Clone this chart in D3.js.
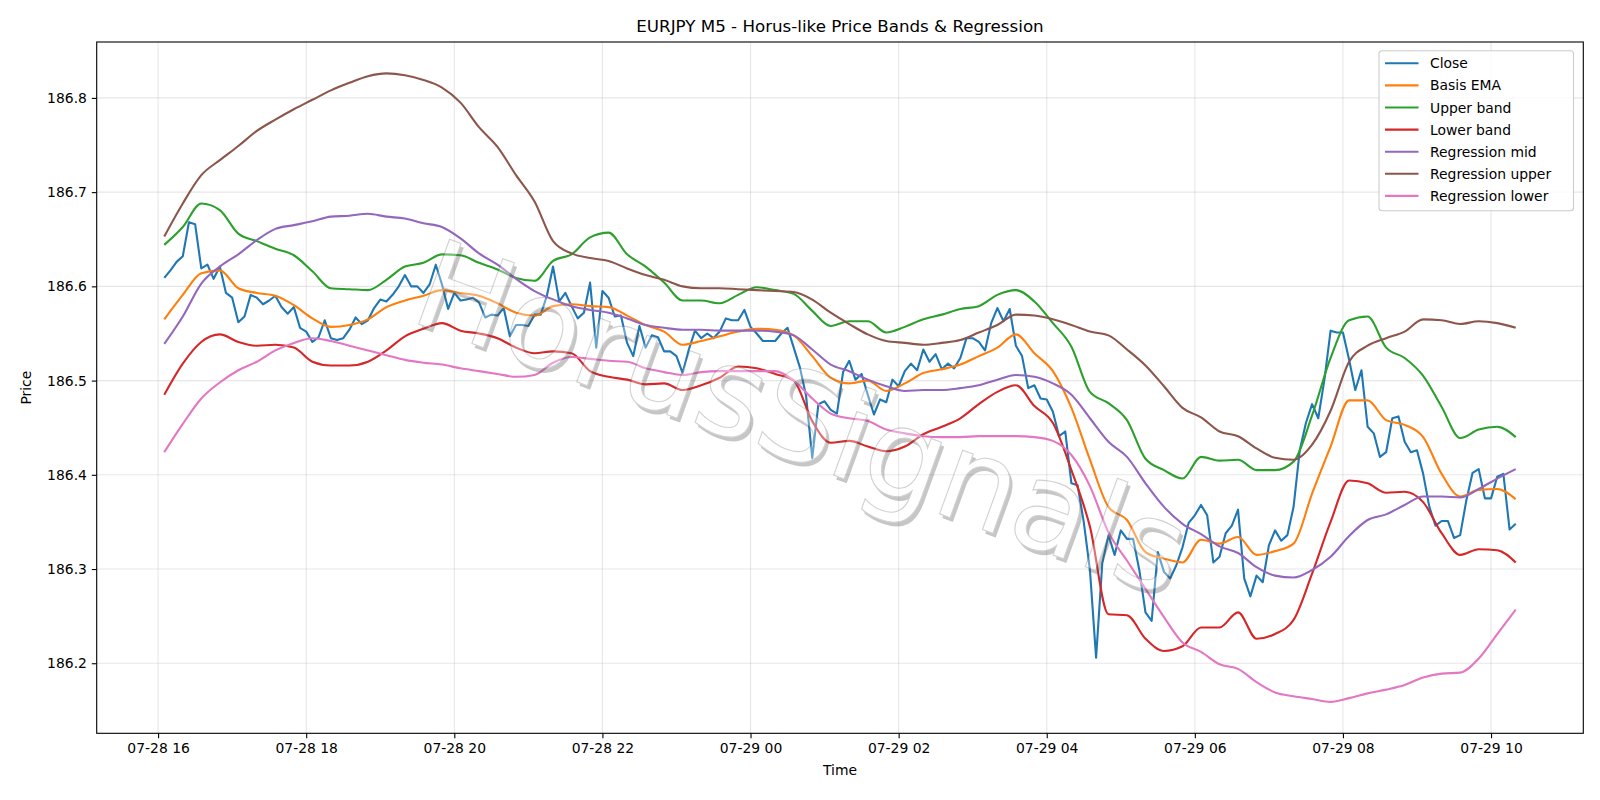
<!DOCTYPE html>
<html>
<head>
<meta charset="utf-8">
<style>

body {
  margin: 0;
  background: #fff;
}

svg {
  font-family: "DejaVu Sans", sans-serif;
}

.grid line {
  stroke: #b0b0b0;
  stroke-opacity: 0.3;
  stroke-width: 1.1px;
}

.series {
  fill: none;
  stroke-width: 2.1px;
  stroke-linejoin: round;
}

</style>
</head>
<body>
<svg width="1600" height="800"></svg>
<script src="https://d3js.org/d3.v7.min.js"></script>
<script>

// M5 bars, first bar 07-28 16:05
var startTime = new Date(2025, 6, 28, 16, 5),
    stepMinutes = 5,
    bandStep = 3; // band / regression values read every 3rd bar

var closePrice = [
  186.609, 186.617, 186.626, 186.632, 186.668, 186.666, 186.619, 186.623, 186.608, 186.621,
  186.593, 186.588, 186.562, 186.568, 186.591, 186.588, 186.581, 186.585, 186.590, 186.578,
  186.571, 186.578, 186.556, 186.552, 186.541, 186.546, 186.564, 186.545, 186.543, 186.545,
  186.554, 186.567, 186.560, 186.564, 186.577, 186.586, 186.584, 186.591, 186.600, 186.612,
  186.600, 186.600, 186.593, 186.602, 186.623, 186.602, 186.576, 186.593, 186.585, 186.586,
  186.588, 186.583, 186.567, 186.570, 186.569, 186.577, 186.547, 186.559, 186.559, 186.558,
  186.570, 186.570, 186.590, 186.621, 186.584, 186.593, 186.579, 186.566, 186.572, 186.604,
  186.535, 186.595, 186.588, 186.568, 186.569, 186.540, 186.526, 186.558, 186.535, 186.548,
  186.546, 186.531, 186.531, 186.526, 186.508, 186.533, 186.553, 186.545, 186.550, 186.545,
  186.552, 186.566, 186.564, 186.564, 186.575, 186.557, 186.550, 186.542, 186.542, 186.542,
  186.550, 186.556, 186.535, 186.514, 186.484, 186.418, 186.475, 186.478, 186.469, 186.465,
  186.509, 186.521, 186.501, 186.507, 186.485, 186.464, 186.480, 186.477, 186.501, 186.494,
  186.510, 186.518, 186.511, 186.533, 186.520, 186.528, 186.512, 186.518, 186.513, 186.524,
  186.545, 186.545, 186.541, 186.532, 186.561, 186.577, 186.563, 186.576, 186.537, 186.526,
  186.492, 186.495, 186.481, 186.480, 186.467, 186.441, 186.446, 186.391, 186.389, 186.350,
  186.299, 186.206, 186.306, 186.336, 186.315, 186.341, 186.332, 186.332, 186.299, 186.254,
  186.245, 186.318, 186.297, 186.290, 186.304, 186.323, 186.349, 186.357, 186.368, 186.357,
  186.307, 186.313, 186.338, 186.346, 186.363, 186.290, 186.271, 186.293, 186.286, 186.325,
  186.341, 186.330, 186.336, 186.366, 186.426, 186.455, 186.475, 186.460, 186.501, 186.553,
  186.551, 186.551, 186.522, 186.490, 186.511, 186.451, 186.444, 186.419, 186.424, 186.460,
  186.462, 186.435, 186.424, 186.426, 186.401, 186.366, 186.346, 186.351, 186.351, 186.333,
  186.336, 186.373, 186.402, 186.406, 186.375, 186.375, 186.398, 186.401, 186.342, 186.348
];

var basisEma = [
  186.565, 186.591, 186.614, 186.617, 186.598, 186.593, 186.590, 186.580, 186.566, 186.557, 186.559, 186.565, 186.578,
  186.585, 186.590, 186.596, 186.593, 186.590, 186.582, 186.572, 186.569, 186.579, 186.581, 186.579, 186.578, 186.569, 186.559,
  186.552, 186.538, 186.542, 186.547, 186.552, 186.555, 186.554, 186.548, 186.526, 186.503, 186.497, 186.500, 186.489,
  186.497, 186.508, 186.512, 186.517, 186.526, 186.535, 186.549, 186.529, 186.510, 186.471, 186.416, 186.366,
  186.352, 186.318, 186.311, 186.307, 186.331, 186.327, 186.334, 186.315, 186.319, 186.327, 186.380, 186.430,
  186.479, 186.479, 186.458, 186.453, 186.440, 186.401, 186.377, 186.384, 186.385, 186.374
];

var upperBand = [
  186.644, 186.663, 186.688, 186.681, 186.656, 186.648, 186.640, 186.633, 186.616, 186.598, 186.597, 186.596, 186.607,
  186.621, 186.625, 186.634, 186.633, 186.625, 186.618, 186.609, 186.606, 186.627, 186.634, 186.652, 186.657, 186.634, 186.621,
  186.604, 186.585, 186.585, 186.582, 186.591, 186.599, 186.596, 186.592, 186.574, 186.558, 186.563, 186.563, 186.551,
  186.557, 186.565, 186.570, 186.576, 186.579, 186.591, 186.596, 186.584, 186.561, 186.536, 186.488, 186.476,
  186.458, 186.417, 186.405, 186.396, 186.419, 186.415, 186.416, 186.405, 186.405, 186.414, 186.463, 186.524,
  186.564, 186.568, 186.535, 186.524, 186.505, 186.472, 186.439, 186.448, 186.451, 186.440
];

var lowerBand = [
  186.485, 186.518, 186.541, 186.549, 186.541, 186.537, 186.538, 186.535, 186.520, 186.516, 186.516, 186.520, 186.532,
  186.547, 186.555, 186.561, 186.553, 186.550, 186.545, 186.535, 186.529, 186.531, 186.529, 186.510, 186.504, 186.501, 186.496,
  186.497, 186.490, 186.495, 186.503, 186.515, 186.513, 186.507, 186.500, 186.457, 186.434, 186.436, 186.430, 186.425,
  186.430, 186.443, 186.451, 186.460, 186.475, 186.488, 186.495, 186.473, 186.455, 186.405, 186.345, 186.252,
  186.251, 186.226, 186.213, 186.218, 186.238, 186.238, 186.254, 186.226, 186.231, 186.246, 186.295, 186.350,
  186.394, 186.391, 186.381, 186.382, 186.371, 186.338, 186.315, 186.321, 186.320, 186.307
];

var regressionMid = [
  186.539, 186.568, 186.603, 186.621, 186.634, 186.649, 186.661, 186.665, 186.669, 186.674, 186.675, 186.677, 186.674,
  186.672, 186.667, 186.663, 186.651, 186.635, 186.623, 186.608, 186.595, 186.586, 186.579, 186.575, 186.572, 186.566, 186.559,
  186.556, 186.554, 186.554, 186.553, 186.553, 186.553, 186.552, 186.548, 186.533, 186.517, 186.510, 186.501, 186.494,
  186.489, 186.490, 186.490, 186.492, 186.495, 186.501, 186.506, 186.504, 186.497, 186.485, 186.460, 186.435,
  186.419, 186.391, 186.366, 186.348, 186.337, 186.324, 186.317, 186.302, 186.293, 186.291, 186.299, 186.313,
  186.335, 186.352, 186.358, 186.368, 186.377, 186.377, 186.376, 186.385, 186.396, 186.406
];

var regressionUpper = [
  186.653, 186.688, 186.718, 186.734, 186.749, 186.765, 186.777, 186.788, 186.798, 186.808, 186.816, 186.823, 186.826,
  186.824, 186.819, 186.811, 186.795, 186.769, 186.748, 186.718, 186.690, 186.648, 186.635, 186.630, 186.627, 186.619, 186.612,
  186.607, 186.600, 186.598, 186.598, 186.597, 186.596, 186.595, 186.594, 186.586, 186.572, 186.560, 186.549, 186.542,
  186.540, 186.538, 186.540, 186.543, 186.551, 186.559, 186.570, 186.569, 186.565, 186.559, 186.552, 186.548,
  186.533, 186.516, 186.494, 186.471, 186.461, 186.446, 186.441, 186.428, 186.418, 186.416, 186.432, 186.468,
  186.520, 186.537, 186.545, 186.552, 186.565, 186.564, 186.560, 186.563, 186.561, 186.556
];

var regressionLower = [
  186.424, 186.454, 186.481, 186.498, 186.511, 186.520, 186.532, 186.540, 186.545, 186.542, 186.537, 186.532, 186.527,
  186.522, 186.519, 186.517, 186.513, 186.510, 186.507, 186.504, 186.506, 186.519, 186.525, 186.523, 186.521, 186.520, 186.513,
  186.509, 186.506, 186.509, 186.510, 186.510, 186.510, 186.510, 186.500, 186.481, 186.465, 186.460, 186.457, 186.448,
  186.444, 186.441, 186.440, 186.440, 186.441, 186.441, 186.441, 186.440, 186.436, 186.421, 186.388, 186.339,
  186.309, 186.279, 186.249, 186.222, 186.212, 186.199, 186.194, 186.180, 186.169, 186.165, 186.162, 186.159,
  186.163, 186.168, 186.172, 186.177, 186.185, 186.189, 186.190, 186.205, 186.231, 186.257
];

var yTicks = [186.2, 186.3, 186.4, 186.5, 186.6, 186.7, 186.8];

var seriesNames = ["Close", "Basis EMA", "Upper band", "Lower band", "Regression mid", "Regression upper", "Regression lower"];
var seriesColors = ["#1f77b4", "#ff7f0e", "#2ca02c", "#d62728", "#9467bd", "#8c564b", "#e377c2"];

var chartTitle = "EURJPY M5 - Horus-like Price Bands & Regression",
    watermark = "HorusSignals";

var svg = d3.select("svg"),
    width = +svg.attr("width"),
    height = +svg.attr("height"),
    margin = {top: 42, right: 16.7, bottom: 66.7, left: 96.7};

function barTime(i) {
  return new Date(startTime.getTime() + i * stepMinutes * 60000);
}

var series = [
  closePrice.map(function(v, i) { return {t: barTime(i), v: v}; })
];
[basisEma, upperBand, lowerBand, regressionMid, regressionUpper, regressionLower].forEach(function(arr) {
  series.push(arr.map(function(v, i) { return {t: barTime(i * bandStep), v: v}; }));
});

// matplotlib style 5% margins
var t0 = barTime(0).getTime(),
    t1 = barTime(closePrice.length - 1).getTime(),
    tPad = (t1 - t0) * 0.05;
var allVals = [].concat.apply([], series.map(function(s) { return s.map(function(d) { return d.v; }); }));
var vMin = d3.min(allVals), vMax = d3.max(allVals), vPad = (vMax - vMin) * 0.05;

var x = d3.scaleTime()
    .domain([new Date(t0 - tPad), new Date(t1 + tPad)])
    .range([margin.left, width - margin.right]);

var y = d3.scaleLinear()
    .domain([vMin - vPad, vMax + vPad])
    .range([height - margin.bottom, margin.top]);

var xTicks = x.ticks(d3.timeHour.every(2));

// grid
var grid = svg.append("g").attr("class", "grid");
grid.selectAll(".gx").data(xTicks).enter().append("line")
    .attr("x1", function(d) { return x(d); }).attr("x2", function(d) { return x(d); })
    .attr("y1", margin.top).attr("y2", height - margin.bottom);
grid.selectAll(".gy").data(yTicks).enter().append("line")
    .attr("x1", margin.left).attr("x2", width - margin.right)
    .attr("y1", function(d) { return y(d); }).attr("y2", function(d) { return y(d); });

// lines
var plot = svg.append("g");
series.forEach(function(s, k) {
  var line = d3.line()
      .x(function(d) { return x(d.t); })
      .y(function(d) { return y(d.v); })
      .curve(k === 0 ? d3.curveLinear : d3.curveMonotoneX);
  plot.append("path")
      .datum(s)
      .attr("class", "series")
      .attr("stroke", seriesColors[k])
      .attr("d", line);
});

// watermark, on top of the lines
var wm = svg.append("g")
    .attr("opacity", 0.33)
    .attr("transform", "translate(802,418) rotate(20)")
    .attr("font-size", 124)
    .attr("text-anchor", "middle")
    .attr("dominant-baseline", "central");
wm.append("text")
    .attr("x", 4).attr("y", 3)
    .attr("fill", "#555")
    .text(watermark);
wm.append("text")
    .attr("fill", "#fff")
    .attr("stroke", "#777")
    .attr("stroke-width", 1.1)
    .text(watermark);

// axes
var xAxis = svg.append("g")
    .attr("transform", "translate(0," + (height - margin.bottom) + ")")
    .call(d3.axisBottom(x).tickValues(xTicks).tickFormat(d3.timeFormat("%m-%d %H")).tickSize(4.9).tickPadding(4.9));
var yAxis = svg.append("g")
    .attr("transform", "translate(" + margin.left + ",0)")
    .call(d3.axisLeft(y).tickValues(yTicks).tickFormat(d3.format(".1f")).tickSize(4.9).tickPadding(4.9));
[xAxis, yAxis].forEach(function(a) {
  a.attr("font-family", "DejaVu Sans").attr("font-size", 13.9);
  a.select(".domain").remove();
  a.selectAll(".tick line").attr("stroke", "#000").attr("stroke-width", 1.1);
  a.selectAll(".tick text").attr("fill", "#000");
});

// spines
svg.append("rect")
    .attr("x", margin.left).attr("y", margin.top)
    .attr("width", width - margin.left - margin.right)
    .attr("height", height - margin.top - margin.bottom)
    .attr("fill", "none")
    .attr("stroke", "#000")
    .attr("stroke-width", 1.1);

// title and labels
svg.append("text")
    .attr("x", (margin.left + width - margin.right) / 2).attr("y", 32)
    .attr("text-anchor", "middle")
    .attr("font-size", 16.7)
    .text(chartTitle);
svg.append("text")
    .attr("x", (margin.left + width - margin.right) / 2).attr("y", 775)
    .attr("text-anchor", "middle")
    .attr("font-size", 13.9)
    .text("Time");
svg.append("text")
    .attr("transform", "translate(31," + ((margin.top + height - margin.bottom) / 2) + ") rotate(-90)")
    .attr("text-anchor", "middle")
    .attr("font-size", 13.9)
    .text("Price");

// legend
var legend = svg.append("g").attr("transform", "translate(1379,50.7)");
legend.append("rect")
    .attr("width", 194.5).attr("height", 160)
    .attr("rx", 3)
    .attr("fill", "#fff").attr("fill-opacity", 0.8)
    .attr("stroke", "#cccccc").attr("stroke-width", 1.1);
var item = legend.selectAll(".item")
    .data(seriesNames)
    .enter().append("g")
      .attr("transform", function(d, i) { return "translate(0," + (12.6 + i * 22.1) + ")"; });
item.append("line")
    .attr("x1", 6).attr("x2", 39.5)
    .attr("stroke", function(d, i) { return seriesColors[i]; })
    .attr("stroke-width", 2.1);
item.append("text")
    .attr("x", 51).attr("y", 5)
    .attr("font-size", 13.9)
    .text(function(d) { return d; });

</script>
</body>
</html>
